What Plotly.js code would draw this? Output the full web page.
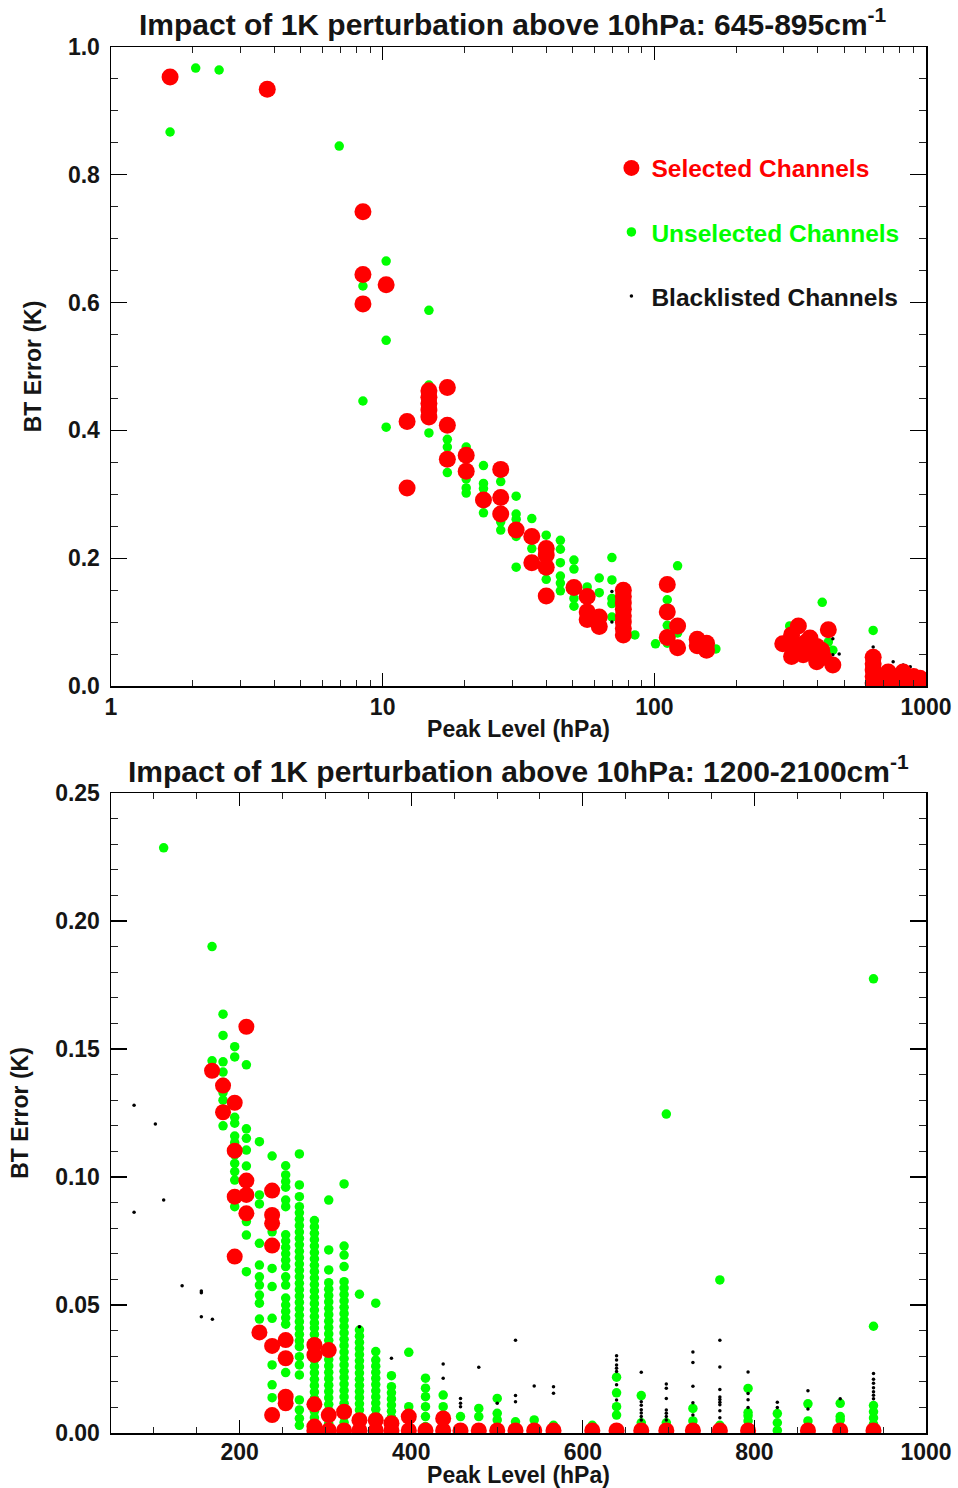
<!DOCTYPE html>
<html>
<head>
<meta charset="utf-8">
<script src="https://cdn.plot.ly/plotly-3.0.1.min.js"></script>
<style>html,body{margin:0;padding:0;background:#fff;}#chart{width:958px;height:1488px;}</style>
</head>
<body>
<div id="chart"></div>
<script>
// ---------- Top panel: 645-895 cm-1 ----------
const selTopX = [1.65,3.76,8.46,8.46,10.3,8.46,17.3,14.8,14.8,14.8,14.8,14.8,12.3,17.3,17.3,20.3,20.3,27.2,12.3,23.5,27.2,27.2,31.0,35.4,35.4,40.0,40.0,40.0,40.0,50.6,56.6,56.6,56.6,62.7,62.7,76.9,76.9,76.9,76.9,76.9,76.9,76.9,76.9,111.6,111.6,121.8,111.6,121.8,143.8,143.8,155.7,155.7,297,320,339,320,334,353,374,396,396,413,437,454,360,380,345,420,639,639,639,639,639,680,726,726,760,800,824,850,875,900,950,980,700,660];
const selTopY = [0.953,0.934,0.742,0.644,0.628,0.598,0.467,0.462,0.452,0.442,0.432,0.421,0.414,0.408,0.355,0.361,0.336,0.339,0.310,0.291,0.295,0.269,0.244,0.234,0.193,0.215,0.205,0.186,0.141,0.154,0.140,0.116,0.104,0.108,0.093,0.150,0.140,0.130,0.120,0.110,0.100,0.090,0.080,0.159,0.116,0.094,0.076,0.060,0.073,0.063,0.067,0.056,0.066,0.080,0.094,0.046,0.062,0.049,0.075,0.062,0.038,0.056,0.088,0.033,0.068,0.055,0.052,0.045,0.045,0.035,0.025,0.015,0.005,0.010,0.022,0.006,0.012,0.008,0.022,0.012,0.006,0.015,0.012,0.004,0.002,0.001];

const unselTopX = [1.65,2.05,2.5,6.92,10.3,8.46,14.8,10.3,8.46,14.8,10.3,14.8,17.3,17.3,20.3,17.3,20.3,23.5,27.2,20.3,20.3,23.5,23.5,31.0,23.5,27.2,27.2,31.0,31.0,31.0,31.0,35.4,35.4,40.0,40.0,45.1,45.1,45.1,45.1,45.1,45.1,50.6,50.6,50.6,50.6,56.6,62.7,62.7,69.8,69.8,69.8,69.8,69.8,84.8,101,121.8,111.6,111.6,121.8,111.6,168.5,315,415,437,454,639];
const unselTopY = [0.867,0.967,0.964,0.845,0.665,0.626,0.588,0.541,0.446,0.471,0.405,0.396,0.386,0.374,0.374,0.334,0.324,0.345,0.320,0.310,0.302,0.317,0.309,0.297,0.271,0.257,0.244,0.269,0.261,0.234,0.186,0.262,0.215,0.236,0.167,0.228,0.214,0.193,0.172,0.161,0.149,0.197,0.183,0.137,0.125,0.155,0.169,0.146,0.201,0.166,0.137,0.129,0.108,0.080,0.066,0.188,0.135,0.095,0.083,0.067,0.058,0.094,0.131,0.069,0.056,0.087];

const blackTopX = [69.8,69.8,454,454,479,639,757,824,875];
const blackTopY = [0.148,0.100,0.074,0.049,0.050,0.061,0.038,0.033,0.030];

// ---------- Bottom panel: 1200-2100 cm-1 (values grouped by peak-level column) ----------
const selBotColX = [167.8,180.6,194.2,207.8,223,237.8,253.6,287.1,303.8,321.7,339.6,358.6,376.9,397.1,416.6,437.2,457.4,478.7,500.2,521.5,543.3,565.8,611,639.3,668.1,697.3,728.3,759.7,792.6,862.4,900,938.8];
const selBotColY = [
  [0.1415],[0.1357,0.1253],[0.129,0.1103,0.0923,0.0689],[0.1587,0.0986,0.093,0.0858],[0.0393],
  [0.0947,0.0852,0.0819,0.0732,0.034,0.007],[0.0363,0.0292,0.0142,0.0116],
  [0.0344,0.0305,0.0112,0.0025,0.001],[0.0324,0.007,0.001],[0.0083,0.001],[0.005,0.001],[0.005,0.001],
  [0.0038,0.001],[0.0064,0.001],[0.001],[0.0057,0.001],[0.001],[0.001],[0.001],[0.001],[0.001],[0.001],
  [0.001],[0.001],[0.001],[0.001],[0.001],[0.001],[0.001],[0.001],[0.001],[0.001]];

const unselBotColX = [111.4,167.8,180.6,194.2,207.8,223,237.8,253.6,269.6,287.1,303.8,321.7,339.6,358.6,376.9,397.1,416.6,437.2,457.4,478.7,500.2,521.5,543.3,565.8,611,639.3,668.1,697.3,728.3,759.7,792.6,826.7,862.4,900,938.8];
const unselBotColY = [
  [0.2286],
  [0.190,0.1454],
  [0.1636,0.1553,0.145,0.141,0.137,0.133,0.130,0.120],
  [0.1509,0.1469,0.1233,0.121,0.116,0.1134,0.1086,0.1053,0.1021,0.0988,0.0884],
  [0.1438,0.1188,0.1151,0.1105,0.1043,0.0826,0.0773,0.063],
  [0.1138,0.093,0.0895,0.0741,0.0656,0.061,0.0578,0.0539,0.0507,0.0445],
  [0.1082,0.0786,0.0643,0.0572,0.0448,0.0266,0.0188,0.0138],
  [0.1044,0.1008,0.0982,0.096,0.091,0.0884,0.0774,0.075,0.0725,0.070,0.0675,0.065,0.061,0.0578,0.0527,0.050,0.0475,0.045,0.0425,0.0236],
  [0.109,0.0969,0.0923,0.0884,0.086,0.0835,0.081,0.0785,0.076,0.0735,0.071,0.0685,0.066,0.0635,0.061,0.0585,0.056,0.0535,0.051,0.0485,0.046,0.0435,0.041,0.0385,0.036,0.0337,0.0298,0.0266,0.0227,0.0129,0.009,0.0057,0.003],
  [0.083,0.0805,0.078,0.0755,0.073,0.0705,0.068,0.0655,0.063,0.0605,0.058,0.0555,0.053,0.0505,0.048,0.0455,0.043,0.041,0.0385,0.036,0.0335,0.031,0.0285,0.026,0.0235,0.021,0.0185,0.016,0.0135,0.011,0.0085,0.006,0.0035],
  [0.091,0.0715,0.0637,0.0587,0.0562,0.0537,0.0512,0.0487,0.0462,0.0437,0.0412,0.0387,0.0362,0.0337,0.0312,0.0287,0.0262,0.0237,0.0212,0.0187,0.0162,0.0137,0.0112,0.0087,0.0062,0.0037,0.0012],
  [0.0973,0.073,0.0695,0.065,0.0591,0.0566,0.0541,0.0516,0.0491,0.0466,0.0441,0.0416,0.0391,0.0366,0.0341,0.0316,0.0291,0.0266,0.0241,0.0216,0.0191,0.0166,0.0141,0.0116,0.0091,0.0066,0.0041,0.0016],
  [0.0542,0.0402,0.0378,0.0354,0.033,0.0306,0.0282,0.0258,0.0234,0.021,0.0186,0.0162,0.0138,0.0114,0.009,0.0066,0.0042,0.0018],
  [0.0507,0.0318,0.0285,0.0261,0.0237,0.0213,0.0189,0.0165,0.0141,0.0117,0.0093,0.0069,0.0045,0.0021],
  [0.0224,0.0181,0.0157,0.0133,0.0109,0.0085,0.0061,0.0037,0.0013],
  [0.0315,0.0103],
  [0.0214,0.0175,0.0142,0.0103,0.0064,0.0025],
  [0.0148,0.0103],
  [0.0064],
  [0.0096,0.0064],
  [0.0135,0.0077,0.0051],
  [0.0044],
  [0.0051],
  [0.003],
  [0.003],
  [0.0218,0.0157,0.0103,0.007],
  [0.0146,0.004],
  [0.1246,0.004],
  [0.0096,0.0047],
  [0.0598,0.003],
  [0.0174,0.008,0.0067,0.0047],
  [0.0076,0.004,0.001],
  [0.0114,0.0047],
  [0.0116,0.0064,0.0051],
  [0.1774,0.0417,0.0107,0.0083,0.0059,0.0035,0.0013]];

const blackBotColX = [76.9,101.7,111.4,132.9,155.3,168.2,339.6,376.9,437.2,457.4,478.7,500.2,521.5,543.3,565.8,639.3,668.1,697.3,728.3,759.7,792.6,826.7,862.4,900,938.8];
const blackBotColY = [
  [0.128,0.0862],[0.1207],[0.091],[0.0575],[0.0555,0.0548,0.0454],[0.0444],[0.0415],[0.0292],
  [0.027,0.0214],[0.0135,0.0116,0.0103],[0.0257],[0.0116],[0.0362,0.0146,0.0122],[0.0184],[0.0181,0.0155],
  [0.0302,0.0285,0.0266,0.0253,0.024,0.0188,0.0129],
  [0.0237,0.0122,0.0108,0.0091,0.0078,0.0064,0.0051],
  [0.0191,0.0175,0.0135,0.009,0.0077,0.0064,0.0051],
  [0.0316,0.0275,0.0183,0.0118,0.007],
  [0.0362,0.0258,0.017,0.0141,0.0131,0.012,0.011,0.0087,0.006],
  [0.0238,0.0154,0.013,0.01],[0.012,0.01],[0.0165,0.0094],[0.0134],
  [0.0232,0.021,0.0194,0.0177,0.0161,0.0147,0.0134]];

// ---------- Axis ticks and labels ----------
const topTitle = 'Impact of 1K perturbation above 10hPa: 645-895cm<sup>-1</sup>';
const botTitle = 'Impact of 1K perturbation above 10hPa: 1200-2100cm<sup>-1</sup>';
const xTitle = 'Peak Level (hPa)';
const yTitle = 'BT Error (K)';
const topXTicks = [1,10,100,1000];
const topXTickText = ['1','10','100','1000'];
const topXMinor = [2,3,4,5,6,7,8,9,20,30,40,50,60,70,80,90,200,300,400,500,600,700,800,900];
const botXTicks = [200,400,600,800,1000];
const legendNames = ['Selected Channels','Unselected Channels','Blacklisted Channels'];

const RED = '#ff0000', GREEN = '#00ff00', BLACK = '#000000';
const FONT = 'Liberation Sans, Arial, Helvetica, sans-serif';

// flatten column tables into x / y lists for Plotly
function flatten(colX, colY) {
  const x = [], y = [];
  colX.forEach((cx, i) => colY[i].forEach(v => { x.push(cx); y.push(v); }));
  return {x, y};
}
const selBot = flatten(selBotColX, selBotColY);
const unselBot = flatten(unselBotColX, unselBotColY);
const blackBot = flatten(blackBotColX, blackBotColY);

function pts(x, y, color, size, xa, ya, name, legend, show) {
  return {type:'scatter', mode:'markers', x:x, y:y, xaxis:xa, yaxis:ya, name:name,
    legend:legend, showlegend:show, hoverinfo:'skip',
    marker:{color:color, size:size, line:{width:0}}};
}

const data = [
  pts(unselTopX, unselTopY, GREEN, 9.5, 'x', 'y', legendNames[1], 'legend2', true),
  pts(blackTopX, blackTopY, BLACK, 3.5, 'x', 'y', legendNames[2], 'legend3', true),
  pts(selTopX, selTopY, RED, 17, 'x', 'y', legendNames[0], 'legend', true),
  pts(unselBot.x, unselBot.y, GREEN, 9.5, 'x2', 'y2', legendNames[1], 'legend2', false),
  pts(blackBot.x, blackBot.y, BLACK, 3.5, 'x2', 'y2', legendNames[2], 'legend3', false),
  pts(selBot.x, selBot.y, RED, 16, 'x2', 'y2', legendNames[0], 'legend', false)
];

const axisCommon = {
  ticks:'inside', tickcolor:'#000', tickwidth:1.2, showline:true, linecolor:'#000', linewidth:1.5,
  mirror:'allticks', showgrid:false, zeroline:false,
  tickfont:{family:FONT, size:23, color:'#151515', weight:'bold'}
};
const titleFont = {family:FONT, size:23, color:'#151515', weight:'bold'};

function legendAt(y, color) {
  return {x:0.614, y:y, xanchor:'left', yanchor:'middle', bgcolor:'rgba(0,0,0,0)', borderwidth:0,
    font:{family:FONT, size:24.5, color:color, weight:'bold'}, itemclick:false, itemdoubleclick:false};
}

const layout = {
  width:958, height:1488,
  margin:{l:111, r:32, t:47, b:55},
  paper_bgcolor:'#fff', plot_bgcolor:'#fff',
  font:{family:FONT, color:'#151515'},
  xaxis: Object.assign({}, axisCommon, {
    type:'log', range:[0,3], domain:[0,1], anchor:'y',
    tickmode:'array', tickvals:topXTicks, ticktext:topXTickText, ticklen:13,
    minor:{tickmode:'array', tickvals:topXMinor, ticks:'inside', ticklen:6, tickwidth:1, tickcolor:'#222'},
    ticklabelstandoff:0,
    title:{text:xTitle, font:titleFont, standoff:2}
  }),
  yaxis: Object.assign({}, axisCommon, {
    range:[0,1], domain:[0.53896,1], anchor:'x',
    tickmode:'linear', tick0:0, dtick:0.2, tickformat:'.1f', ticklen:16,
    minor:{tick0:0, dtick:0.05, ticks:'inside', ticklen:7, tickwidth:1, tickcolor:'#222'},
    ticklabelstandoff:5,
    title:{text:yTitle, font:titleFont, standoff:20}
  }),
  xaxis2: Object.assign({}, axisCommon, {
    range:[50,1000], domain:[0,1], anchor:'y2',
    tickmode:'array', tickvals:botXTicks, ticklen:13,
    minor:{tick0:0, dtick:50, ticks:'inside', ticklen:6, tickwidth:1, tickcolor:'#222'},
    ticklabelstandoff:-2,
    title:{text:xTitle, font:titleFont, standoff:4}
  }),
  yaxis2: Object.assign({}, axisCommon, {
    range:[0,0.25], domain:[0,0.46176], anchor:'x2',
    tickmode:'linear', tick0:0, dtick:0.05, tickformat:'.2f', ticklen:16,
    minor:{tick0:0, dtick:0.01, ticks:'inside', ticklen:7, tickwidth:1, tickcolor:'#222'},
    ticklabelstandoff:5,
    title:{text:yTitle, font:titleFont, standoff:20}
  }),
  legend: legendAt(0.9127, RED),
  legend2: legendAt(0.8665, GREEN),
  legend3: legendAt(0.8203, '#151515'),
  annotations:[
    {text:topTitle, xref:'paper', yref:'paper', x:0.493, y:1.018, xanchor:'center', yanchor:'middle',
     showarrow:false, font:{family:FONT, size:30, color:'#151515', weight:'bold'}},
    {text:botTitle, xref:'paper', yref:'paper', x:0.5, y:0.479, xanchor:'center', yanchor:'middle',
     showarrow:false, font:{family:FONT, size:30, color:'#151515', weight:'bold'}}
  ],
  showlegend:true
};

Plotly.newPlot('chart', data, layout, {staticPlot:true, displayModeBar:false});
</script>
</body>
</html>
